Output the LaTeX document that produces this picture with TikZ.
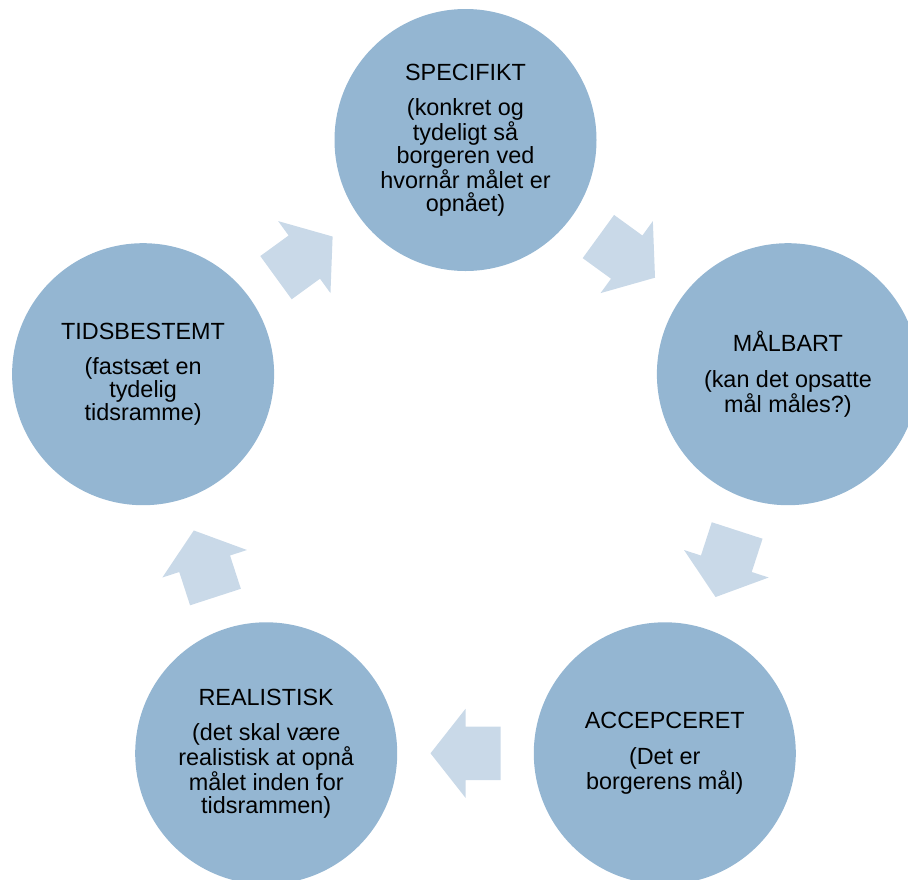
\documentclass[tikz,border=0pt]{standalone}
\usepackage{fontspec}
\setmainfont{Liberation Sans}
\usetikzlibrary{calc}
\definecolor{circfill}{RGB}{148,182,210}
\definecolor{arrfill}{RGB}{201,217,232}
\tikzset{
  stage/.style={circle, fill=circfill, minimum size=262pt, inner sep=0pt,
    align=center, text=black, font=\fontsize{23.4}{23}\selectfont},
  pics/blockarrow/.style={code={
    \fill[arrfill] (-35,-26.7) -- (0,-26.7) -- (0,-44.5) -- (35,0)
      -- (0,44.5) -- (0,26.7) -- (-35,26.7) -- cycle;}}
}
\begin{document}
\begin{tikzpicture}[x=1pt,y=1pt]
\useasboundingbox (0,-879) rectangle (908,0);
\clip (0,-879) rectangle (908,0);
\node[stage] (spec) at (465.5,-140) {SPECIFIKT\\[12.5pt](konkret og\\tydeligt så\\borgeren ved\\hvornår målet er\\opnået)};
\node[stage] (malb) at (787.9,-374.2) {MÅLBART\\[12.5pt](kan det opsatte\\mål måles?)};
\node[stage] (acc) at (664.8,-753.3) {ACCEPCERET\\[12.5pt](Det er\\borgerens mål)};
\node[stage] (real) at (266.2,-753.3) {REALISTISK\\[12.5pt](det skal være\\realistisk at opnå\\målet inden for\\tidsrammen)};
\node[stage] (tids) at (143.1,-374.2) {TIDSBESTEMT\\[12.5pt](fastsæt en\\tydelig\\tidsramme)};
\pic[rotate=-36] (a1) at ($(spec)!0.5!(malb)$) {blockarrow};
\pic[rotate=-108] (a2) at ($(malb)!0.5!(acc)$) {blockarrow};
\pic[rotate=180] (a3) at ($(acc)!0.5!(real)$) {blockarrow};
\pic[rotate=108] (a4) at ($(real)!0.5!(tids)$) {blockarrow};
\pic[rotate=36] (a5) at ($(tids)!0.5!(spec)$) {blockarrow};
\end{tikzpicture}
\end{document}
